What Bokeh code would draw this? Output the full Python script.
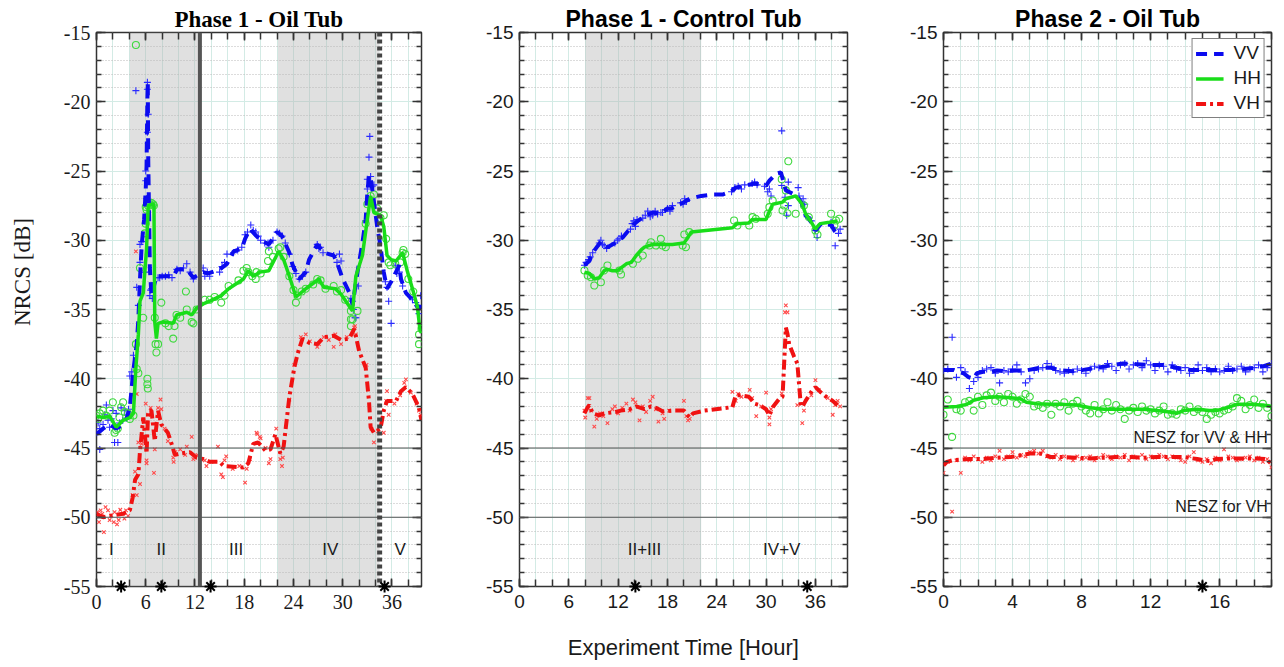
import math
from bokeh.plotting import figure
from bokeh.layouts import row
from bokeh.models import (Range1d, FixedTicker, LinearAxis, Span, BoxAnnotation,
                          Legend, LegendItem, CustomJSTickFormatter)
from bokeh.embed import file_html
from bokeh.resources import INLINE
from bokeh.core.properties import value

SERIF = "Liberation Serif"
SANS = "Liberation Sans"

# ---------------- axis ticks ----------------
y_ticks = [-55, -50, -45, -40, -35, -30, -25, -20, -15]
y_minor = list(range(-55, -14))
x_ticks_p1 = [0, 6, 12, 18, 24, 30, 36]
x_minor_p1 = list(range(0, 41, 2))
x_ticks_p3 = [0, 4, 8, 12, 16]
x_minor_p3 = list(range(0, 20))
nesz_levels = [-45, -50]

# ---------------- Panel 1 : Phase 1 - Oil Tub ----------------
p1_vv_line_t = [0, 0.8, 1.6, 2.4, 3.0, 3.7, 4.06, 4.47, 4.9, 5.1,
                5.3, 5.5, 5.8, 6.0, 6.1, 6.15, 6.2, 6.25, 6.3, 6.5,
                6.7, 7.3, 8.5, 9.4, 9.8, 11.0, 11.8, 13.0, 13.6, 15.0,
                15.9, 16.7, 17.7, 18.1, 18.7, 19.5, 20.0, 21.0, 22.0, 22.6,
                23.5, 23.9, 24.7, 25.5, 25.9, 26.9, 27.7, 28.9, 29.3, 30.0,
                31.0, 31.2, 31.8, 32.4, 32.8, 33.0, 33.2, 33.4, 33.6, 34.2,
                34.6, 35.0, 35.4, 35.9, 36.9, 37.1, 37.7, 38.5, 39.3, 39.6]
p1_vv_line_v = [-44.0, -43.6, -43.3, -43.6, -43.4, -42.8, -42.1, -39.5, -37.5, -35.7,
                -32.8, -30.4, -28.5, -26.3, -24.6, -22.2, -19.8, -18.6, -24.0, -32.0,
                -34.0, -32.6, -32.6, -32.6, -32.1, -32.1, -32.7, -32.3, -32.4, -32.1,
                -31.7, -30.8, -30.6, -29.9, -29.2, -29.7, -30.0, -30.3, -29.4, -29.7,
                -30.9, -31.8, -32.8, -32.3, -31.4, -30.3, -30.9, -31.1, -31.6, -32.8,
                -34.0, -34.7, -32.3, -30.2, -28.5, -26.6, -25.3, -25.6, -26.3, -29.0,
                -30.4, -32.3, -33.5, -33.0, -31.8, -32.8, -33.8, -34.3, -35.0, -34.2]

p1_hh_line_t = [0, 0.8, 1.6, 2.4, 3.25, 4.06, 4.5, 4.8, 5.1, 5.3,
                5.7, 6.1, 6.3, 6.7, 7.0, 7.1, 7.3, 7.5, 8.1, 9.35,
                9.75, 11.0, 11.6, 12.2, 13.0, 13.8, 15.2, 16.1, 17.9, 18.5,
                19.1, 19.9, 21.0, 22.2, 22.8, 23.5, 24.3, 25.5, 27.1, 27.7,
                29.1, 29.8, 31.2, 31.6, 32.4, 33.0, 33.4, 33.8, 34.6, 35.0,
                35.4, 35.9, 36.5, 37.3, 37.9, 38.5, 39.1, 39.4, 39.6]
p1_hh_line_v = [-42.7, -42.8, -42.7, -43.5, -43.0, -42.8, -42.5, -39.2, -36.8, -34.4,
                -33.8, -30.6, -27.5, -27.4, -27.4, -35.9, -37.1, -36.0, -35.9, -36.0,
                -35.4, -35.2, -35.4, -34.9, -34.6, -34.4, -34.0, -33.5, -32.8, -32.2,
                -32.6, -32.3, -32.2, -30.8, -31.4, -32.6, -34.1, -33.5, -32.8, -33.4,
                -33.5, -33.9, -35.1, -32.6, -31.1, -28.5, -26.8, -28.0, -28.2, -29.0,
                -31.1, -31.4, -31.5, -30.9, -32.3, -33.5, -34.8, -36.4, -36.7]

p1_vh_line_t = [0, 0.8, 1.6, 3.25, 4.06, 4.4, 4.7, 5.1, 5.3, 5.5,
                5.7, 6.1, 6.3, 6.7, 7.1, 7.5, 7.9, 8.7, 9.15, 9.55,
                10.2, 11.4, 12.2, 13.0, 13.8, 15.0, 15.5, 17.9, 18.5, 19.1,
                19.7, 20.6, 21.2, 21.8, 22.4, 22.8, 23.5, 24.1, 24.5, 25.1,
                25.9, 26.9, 27.7, 28.9, 29.8, 30.8, 31.4, 32.0, 32.8, 33.2,
                33.4, 33.8, 34.6, 35.0, 35.4, 36.5, 37.1, 37.7, 38.5, 39.3,
                39.6]
p1_vh_line_v = [-49.75, -50.0, -49.9, -49.75, -49.5, -48.6, -47.3, -46.9, -45.2, -44.0,
                -42.8, -45.4, -42.3, -42.3, -44.5, -42.3, -43.3, -43.9, -44.7, -45.5,
                -45.4, -45.3, -45.7, -45.8, -46.0, -46.0, -46.3, -46.4, -46.1, -44.7,
                -44.6, -45.2, -45.1, -44.0, -45.4, -44.9, -41.3, -39.2, -38.2, -37.1,
                -37.4, -37.5, -37.0, -36.9, -37.2, -37.1, -36.4, -38.0, -39.2, -41.6,
                -43.5, -43.9, -43.6, -42.3, -41.6, -41.6, -40.9, -40.6, -41.1, -42.1,
                -43.0]

p1_vv_pts_t = [0, 0.2, 0.4, 0.4, 0.8, 1.0, 1.2, 1.4, 1.6, 1.8,
               2.0, 2.2, 2.4, 2.6, 2.8, 3.0, 3.2, 3.45, 3.7, 3.9,
               4.06, 4.3, 4.5, 4.8, 4.9, 5.1, 5.3, 5.3, 5.5, 5.9,
               6.0, 6.0, 6.2, 6.2, 6.2, 6.3, 6.1, 6.5, 6.6, 6.7,
               6.8, 7.5, 7.7, 8.0, 8.4, 8.8, 9.2, 9.8, 10.2, 10.6,
               11.0, 11.4, 11.8, 13.0, 13.2, 13.5, 13.8, 15.0, 15.3, 15.6,
               15.9, 16.7, 17.2, 17.7, 18.1, 18.4, 18.8, 19.1, 19.4, 19.7,
               20.0, 20.5, 20.9, 21.0, 21.5, 22.0, 22.3, 22.6, 23.0, 23.5,
               23.9, 24.3, 24.7, 25.1, 25.5, 26.9, 27.1, 27.3, 27.6, 28.9,
               29.3, 29.6, 29.8, 31.0, 31.2, 31.3, 31.6, 31.5, 31.9, 32.8,
               33.0, 33.0, 33.2, 33.3, 33.4, 33.6, 33.8, 35.2, 35.4, 35.6,
               35.9, 36.4, 36.6, 36.9, 37.3, 38.5, 38.9, 39.3, 39.5]
p1_vv_pts_v = [-43.9, -43.2, -43.6, -45.1, -43.3, -42.6, -41.9, -43.0, -43.5, -42.9,
               -42.3, -44.6, -42.5, -44.6, -43.2, -42.1, -43.0, -42.3, -42.6, -42.2,
               -39.8, -39.5, -38.3, -19.2, -33.4, -34.7, -30.3, -31.6, -30.1, -32.3,
               -25.7, -25.0, -22.2, -18.6, -19.1, -20.9, -27.0, -34.0, -33.6, -33.5,
               -34.2, -32.7, -32.7, -32.6, -32.6, -32.5, -32.7, -32.1, -32.2, -32.0,
               -31.7, -32.3, -32.8, -32.0, -32.6, -32.3, -32.6, -32.3, -31.9, -31.6,
               -31.0, -30.9, -30.7, -30.5, -29.6, -29.4, -28.9, -29.3, -29.4, -29.7,
               -30.0, -30.2, -30.2, -30.5, -30.0, -29.4, -29.5, -29.7, -30.2, -31.0,
               -31.9, -32.4, -32.8, -32.6, -32.3, -30.3, -30.6, -30.5, -30.9, -31.1,
               -31.6, -31.0, -31.5, -34.2, -34.4, -35.0, -35.6, -35.6, -33.3, -28.6,
               -26.3, -25.6, -24.0, -22.5, -25.4, -26.1, -26.0, -33.0, -33.4, -34.4,
               -36.0, -31.8, -32.4, -32.3, -33.3, -34.3, -34.5, -35.3, -34.0]

p1_hh_pts_t = [0, 0.2, 0.4, 0.8, 1.2, 1.6, 2.0, 2.2, 2.4, 2.6,
               2.8, 3.0, 3.25, 3.45, 3.8, 4.06, 4.5, 4.8, 4.9, 5.1,
               4.8, 5.3, 5.7, 5.9, 6.0, 6.0, 6.1, 6.2, 6.2, 6.25,
               6.3, 6.5, 6.7, 6.9, 7.0, 7.1, 7.2, 7.3, 7.5, 7.9,
               8.4, 8.8, 9.35, 9.5, 9.75, 10.2, 10.9, 11.0, 11.6, 11.8,
               12.2, 13.2, 13.8, 14.4, 15.2, 15.6, 16.1, 17.3, 17.9, 18.3,
               18.5, 19.0, 19.4, 19.5, 20.0, 20.9, 21.0, 21.5, 22.2, 22.4,
               22.8, 23.5, 24.0, 24.3, 24.5, 25.0, 25.5, 26.4, 26.9, 27.3,
               27.9, 28.9, 29.3, 29.8, 30.3, 31.0, 31.0, 31.2, 31.0, 31.8,
               32.8, 33.0, 33.4, 33.8, 34.2, 34.6, 35.0, 35.3, 35.6, 35.8,
               36.4, 37.0, 37.3, 37.4, 37.6, 38.0, 38.6, 39.3, 39.3, 39.6]
p1_hh_pts_v = [-42.66, -42.9, -42.5, -42.3, -42.66, -42.3, -41.7, -43.9, -43.7, -43.6,
               -42.8, -42.06, -41.7, -42.4, -42.5, -42.9, -42.66, -37.5, -39.3, -39.6,
               -15.9, -32.0, -35.6, -29.5, -28.8, -27.6, -27.8, -40.0, -40.4, -40.7,
               -27.5, -27.4, -27.3, -27.4, -27.5, -35.6, -37.5, -38.1, -37.5, -34.5,
               -36.0, -36.2, -37.1, -36.2, -35.4, -35.6, -33.7, -35.0, -35.9, -36.0,
               -35.0, -34.3, -34.3, -34.1, -34.5, -34.0, -33.3, -32.9, -32.2, -32.0,
               -32.3, -32.6, -32.8, -32.3, -32.4, -31.5, -30.8, -31.2, -30.6, -30.5,
               -31.2, -32.6, -33.6, -34.5, -34.0, -33.7, -33.5, -33.2, -32.8, -32.9,
               -33.5, -33.3, -33.7, -33.6, -34.3, -35.1, -35.7, -35.7, -36.2, -35.1,
               -28.8, -27.4, -26.8, -26.7, -27.7, -28.4, -28.2, -29.9, -31.6, -31.8,
               -31.7, -31.6, -30.9, -30.7, -31.0, -32.8, -33.7, -36.8, -37.5, -36.4]

p1_vh_pts_t = [0.1, 0.3, 0.5, 0.7, 0.9, 1.1, 1.4, 1.6, 1.8, 2.1,
               2.2, 2.5, 2.7, 2.9, 3.2, 3.4, 3.6, 3.85, 4.4, 4.7,
               4.9, 4.8, 4.9, 5.1, 5.3, 5.5, 5.7, 6.0, 6.1, 6.1,
               6.3, 6.6, 7.0, 7.1, 7.5, 7.8, 7.9, 8.3, 8.7, 9.35,
               9.4, 9.6, 10.2, 10.8, 11.0, 11.6, 11.8, 12.3, 13.2, 13.4,
               14.0, 14.8, 15.2, 15.4, 15.6, 15.8, 16.6, 17.4, 18.1, 18.3,
               18.7, 19.5, 19.6, 19.9, 20.0, 20.6, 21.0, 21.2, 21.9, 22.4,
               22.6, 22.7, 23.5, 24.1, 24.9, 25.5, 26.0, 26.9, 27.1, 27.7,
               28.3, 28.9, 29.1, 29.8, 30.5, 31.4, 31.5, 31.6, 32.9, 33.5,
               33.8, 34.3, 35.0, 35.3, 35.4, 35.6, 36.3, 37.0, 37.5, 37.7,
               38.3, 39.0, 39.3, 39.5]
p1_vh_pts_v = [-49.63, -50.35, -49.5, -49.75, -51.07, -49.27, -49.5, -50.2, -49.87, -50.35,
               -49.63, -50.52, -50.2, -49.46, -49.75, -50.1, -49.5, -49.9, -48.4, -46.7,
               -48.4, -30.8, -41.1, -44.6, -47.6, -44.7, -43.0, -41.8, -45.9, -46.1,
               -42.6, -42.1, -46.8, -45.1, -42.1, -41.5, -42.2, -43.6, -44.5, -45.7,
               -46.0, -45.3, -45.1, -45.5, -44.9, -44.2, -45.8, -45.5, -45.9, -46.3,
               -46.0, -44.9, -46.9, -47.1, -45.9, -45.6, -46.5, -46.3, -47.5, -46.5,
               -45.8, -43.9, -44.0, -44.2, -44.3, -45.0, -46.1, -45.8, -43.6, -45.8,
               -46.3, -45.7, -41.5, -39.0, -37.0, -36.8, -37.3, -37.7, -37.5, -37.0,
               -37.2, -37.7, -36.8, -37.5, -37.0, -36.3, -36.2, -36.8, -39.0, -43.6,
               -44.6, -43.8, -43.9, -41.6, -40.9, -42.6, -41.8, -41.2, -40.3, -40.05,
               -41.0, -41.8, -42.3, -42.6]

p1_shade_left = [4.06, 22.1]
p1_shade_right = [12.6, 34.5]
p1_solid_line_at = 12.6
p1_dotted_line_at = 34.5
p1_region_names = ["I", "II", "III", "IV", "V"]
p1_region_x = [1.8, 7.9, 17.0, 28.5, 37.0]
p1_region_y = [-52.3, -52.3, -52.3, -52.3, -52.3]
p1_star_x = [3.0, 7.9, 13.9, 35.1]
p1_ylabel = ["NRCS [dB]"]
p1_ylabel_x = [-9.0]
p1_ylabel_y = [-32.3]

# ---------------- Panel 2 : Phase 1 - Control Tub ----------------
p2_vv_line_t = [7.9, 8.5, 8.9, 9.9, 10.7, 11.9, 12.55, 13.8, 14.4, 15.4,
                16.2, 17.2, 18.0, 18.5, 20.0, 20.7, 22.1, 23.5, 24.7, 25.7,
                26.3, 27.5, 28.6, 30.0, 30.4, 31.2, 31.8, 32.4, 33.8, 34.4,
                34.8, 35.2, 36.0, 36.7, 37.9, 38.3, 38.9]
p2_vv_line_v = [-31.8, -31.5, -30.9, -30.1, -30.5, -30.1, -29.8, -28.9, -28.6, -28.2,
                -28.0, -28.1, -27.7, -27.7, -27.25, -27.0, -26.8, -26.7, -26.7, -26.5,
                -26.2, -26.05, -25.9, -26.05, -25.7, -25.2, -25.1, -26.4, -26.8, -27.4,
                -28.2, -28.4, -29.3, -28.8, -28.9, -29.3, -29.7]

p2_hh_line_t = [7.9, 8.5, 9.1, 9.7, 10.3, 10.7, 11.3, 11.9, 13.0, 13.6,
                14.2, 14.8, 15.2, 16.2, 17.4, 18.6, 20.0, 20.5, 20.9, 25.9,
                26.5, 27.9, 28.3, 30.0, 30.4, 30.8, 32.0, 32.4, 33.6, 34.4,
                34.8, 35.4, 36.0, 36.4, 36.6, 37.7, 38.7]
p2_hh_line_v = [-32.3, -32.4, -32.8, -32.7, -32.2, -32.1, -32.2, -32.2, -31.7, -31.6,
                -31.1, -30.7, -30.5, -30.3, -30.3, -30.3, -30.2, -29.8, -29.4, -29.1,
                -28.8, -28.75, -28.5, -28.5, -27.9, -27.4, -27.25, -27.0, -26.8, -27.4,
                -28.1, -28.6, -29.2, -28.9, -28.8, -28.7, -28.6]

p2_vh_line_t = [7.9, 8.3, 8.5, 8.9, 9.7, 10.3, 11.7, 12.3, 13.4, 14.2,
                15.2, 16.0, 16.6, 17.4, 18.6, 20.0, 20.7, 21.1, 22.5, 25.9,
                26.3, 26.9, 27.9, 28.6, 29.2, 30.0, 30.4, 30.8, 31.6, 32.0,
                32.4, 32.6, 32.8, 33.4, 33.8, 34.2, 34.4, 34.8, 35.6, 36.0,
                36.6, 37.3, 38.1, 38.7]
p2_vh_line_v = [-42.5, -42.05, -41.9, -42.5, -42.65, -42.5, -42.4, -42.3, -42.2, -42.0,
                -42.2, -42.0, -42.1, -42.35, -42.3, -42.3, -42.8, -42.5, -42.3, -42.05,
                -41.2, -41.2, -41.3, -41.8, -41.9, -42.2, -42.65, -42.05, -41.45, -41.3,
                -36.3, -36.75, -37.5, -38.4, -38.9, -41.8, -42.05, -41.6, -40.85, -40.6,
                -40.95, -41.3, -41.6, -41.9]

p2_vv_pts_t = [7.9, 8.1, 8.4, 8.6, 8.9, 9.7, 9.9, 10.1, 10.3, 10.6,
               11.6, 11.9, 12.1, 12.4, 13.5, 13.7, 13.9, 14.1, 14.3, 15.0,
               15.3, 15.6, 15.9, 16.2, 16.5, 16.8, 17.2, 17.4, 18.0, 18.3,
               18.6, 19.6, 19.9, 20.1, 20.3, 25.8, 26.2, 26.6, 27.0, 27.4,
               28.3, 28.6, 28.9, 29.8, 30.2, 30.4, 30.6, 31.9, 31.9, 32.3,
               32.5, 32.7, 32.7, 33.9, 34.0, 34.5, 34.7, 35.0, 35.5, 36.2,
               36.0, 37.9, 38.2, 38.4, 38.8, 39.0]
p2_vv_pts_v = [-31.8, -31.6, -31.4, -31.2, -30.9, -30.2, -30.0, -30.3, -30.4, -30.6,
               -30.2, -30.0, -29.9, -29.7, -29.2, -28.8, -28.6, -29.0, -28.5, -28.4,
               -28.2, -27.9, -28.3, -28.2, -27.9, -28.1, -28.0, -28.0, -27.7, -27.9,
               -27.5, -27.3, -27.4, -27.0, -27.2, -26.5, -26.2, -26.1, -26.3, -26.0,
               -25.9, -25.8, -26.0, -26.1, -26.5, -26.3, -26.8, -22.1, -26.05, -26.9,
               -28.2, -27.5, -25.8, -26.2, -26.8, -27.0, -27.4, -28.3, -28.6, -29.8,
               -29.3, -28.7, -29.1, -30.4, -29.5, -29.2]

p2_hh_pts_t = [7.9, 8.3, 8.7, 9.1, 9.9, 10.7, 10.3, 12.35, 12.15, 13.8,
               14.4, 15.0, 15.8, 16.0, 16.6, 17.2, 17.8, 17.4, 20.05, 20.25,
               19.85, 20.65, 26.1, 26.5, 27.95, 28.35, 28.75, 30.2, 30.4, 30.8,
               32.2, 32.0, 32.6, 32.4, 33.6, 34.6, 35.2, 36.0, 36.25, 37.9,
               38.3, 38.9, 38.5, 32.7, 31.9]
p2_hh_pts_v = [-32.18, -32.55, -32.67, -33.27, -33.03, -31.82, -32.18, -32.47, -32.18, -31.70,
               -31.34, -31.1, -30.38, -30.14, -30.38, -29.9, -30.5, -30.38, -29.58, -30.5,
               -30.38, -29.41, -28.57, -28.93, -28.93, -28.33, -28.45, -28.09, -27.61, -27.13,
               -27.49, -27.85, -28.05, -26.4, -28.09, -27.49, -28.33, -29.29, -29.6, -28.09,
               -28.93, -28.45, -28.57, -24.3, -25.6]

p2_vh_pts_t = [7.9, 8.0, 8.3, 8.5, 8.7, 9.1, 9.4, 9.8, 10.2, 10.7,
               11.3, 11.6, 12.0, 12.5, 13.0, 13.4, 13.8, 14.1, 14.6, 15.0,
               15.4, 15.9, 16.2, 16.6, 16.9, 17.4, 17.6, 18.2, 20.0, 20.3,
               20.5, 20.7, 25.9, 26.3, 26.6, 27.0, 28.0, 28.3, 28.8, 29.4,
               30.0, 30.4, 30.4, 30.6, 31.9, 32.3, 32.4, 32.6, 33.8, 34.4,
               34.6, 35.5, 36.0, 36.4, 37.5, 38.1, 38.4, 38.7, 39.0]
p2_vh_pts_v = [-42.3, -42.8, -41.4, -41.4, -42.3, -43.45, -42.9, -42.5, -42.7, -43.2,
               -42.2, -42.0, -42.5, -42.1, -41.8, -42.3, -41.5, -41.7, -43.0, -42.0,
               -42.4, -41.6, -41.3, -42.2, -43.1, -42.5, -42.9, -42.3, -41.6, -42.7,
               -43.0, -42.9, -40.95, -41.6, -41.1, -41.3, -40.8, -41.4, -42.7, -42.0,
               -41.0, -43.3, -42.8, -42.2, -41.05, -35.2, -34.7, -35.2, -41.9, -43.2,
               -42.3, -41.2, -40.1, -40.8, -41.4, -42.6, -41.9, -41.6, -42.0]

p2_shade_left = [8.0]
p2_shade_right = [22.1]
p2_region_names = ["II+III", "IV+V"]
p2_region_x = [15.2, 31.9]
p2_region_y = [-52.3, -52.3]
p2_star_x = [14.1, 35.0]

# ---------------- Panel 3 : Phase 2 - Oil Tub ----------------
p3_vv_line_t = [0, 0.58, 0.87, 1.16, 1.45, 1.74, 1.93, 2.3, 2.7, 3.1,
                3.5, 4.25, 4.8, 5.6, 6.2, 6.75, 7.5, 8.1, 8.9, 9.65,
                10.4, 11.2, 12.0, 12.7, 13.5, 14.3, 15.1, 15.8, 16.6, 17.4,
                18.1, 18.5, 19.0]
p3_vv_line_v = [-39.36, -39.36, -39.5, -39.6, -39.88, -40.0, -39.6, -39.5, -39.5, -39.4,
                -39.45, -39.4, -39.4, -39.2, -39.2, -39.4, -39.45, -39.36, -39.2, -39.05,
                -38.9, -38.95, -39.0, -39.0, -39.2, -39.36, -39.36, -39.36, -39.36, -39.3,
                -39.2, -39.1, -38.9]

p3_hh_line_t = [0, 0.77, 1.35, 1.74, 2.3, 3.1, 3.9, 4.45, 4.8, 5.4,
                6.2, 6.95, 7.7, 8.5, 9.3, 10.0, 10.8, 11.6, 12.35, 13.1,
                13.5, 13.9, 14.7, 15.4, 15.8, 16.4, 17.0, 17.8, 18.5, 19.0]
p3_hh_line_v = [-42.05, -42.0, -41.85, -41.55, -41.37, -41.3, -41.37, -41.44, -41.7, -41.8,
                -41.85, -41.85, -41.9, -42.1, -42.2, -42.2, -42.2, -42.2, -42.3, -42.4,
                -42.5, -42.3, -42.2, -42.3, -42.3, -42.1, -41.85, -41.85, -41.9, -42.0]

p3_vh_line_t = [0, 0.2, 0.58, 1.5, 2.3, 3.1, 3.9, 4.6, 5.0, 5.6,
                6.2, 6.95, 7.7, 8.5, 9.3, 10.0, 10.8, 11.6, 12.35, 13.1,
                13.9, 14.7, 15.4, 15.8, 16.6, 17.4, 18.1, 18.7, 19.0]
p3_vh_line_v = [-46.26, -46.0, -45.87, -45.8, -45.8, -45.7, -45.65, -45.5, -45.4, -45.4,
                -45.65, -45.65, -45.7, -45.75, -45.7, -45.65, -45.65, -45.7, -45.65, -45.65,
                -45.65, -45.8, -45.95, -45.8, -45.75, -45.75, -45.75, -45.8, -46.15]

p3_pts_t = [0.0, 0.25, 0.5, 0.75, 1.0, 1.25, 1.5, 1.75, 2.0, 2.25,
            2.5, 2.75, 3.0, 3.25, 3.5, 3.75, 4.0, 4.25, 4.5, 4.75,
            5.0, 5.25, 5.5, 5.75, 6.0, 6.25, 6.5, 6.75, 7.0, 7.25,
            7.5, 7.75, 8.0, 8.25, 8.5, 8.75, 9.0, 9.25, 9.5, 9.75,
            10.0, 10.25, 10.5, 10.75, 11.0, 11.25, 11.5, 11.75, 12.0, 12.25,
            12.5, 12.75, 13.0, 13.25, 13.5, 13.75, 14.0, 14.25, 14.5, 14.75,
            15.0, 15.25, 15.5, 15.75, 16.0, 16.25, 16.5, 16.75, 17.0, 17.25,
            17.5, 17.75, 18.0, 18.25, 18.5, 18.75, 19.0]
p3_vv_pts_v = [-39.4, -39.3, -37.0, -39.9, -39.2, -39.5, -40.7, -40.2, -39.9, -39.4,
               -39.3, -39.2, -39.6, -40.3, -39.4, -39.5, -39.3, -39.0, -39.5, -40.3,
               -40.0, -39.4, -39.3, -39.2, -38.9, -39.1, -39.4, -39.5, -39.6, -39.4,
               -39.5, -39.3, -39.4, -39.6, -39.3, -39.1, -39.2, -39.3, -38.9, -39.1,
               -39.4, -39.0, -38.9, -39.3, -39.0, -38.9, -39.2, -38.7, -39.0, -39.4,
               -39.0, -39.1, -39.5, -39.0, -39.3, -39.4, -39.2, -39.6, -39.4, -39.0,
               -39.4, -39.2, -39.5, -39.3, -39.5, -39.4, -39.1, -39.4, -39.3, -39.1,
               -39.5, -39.3, -39.2, -39.0, -39.5, -39.2, -38.9]
p3_hh_pts_v = [-42.6, -41.5, -44.2, -42.2, -42.3, -41.7, -41.6, -42.3, -41.3, -41.9,
               -41.2, -41.0, -41.6, -41.3, -41.7, -41.1, -41.3, -41.8, -41.5, -41.1,
               -41.3, -42.0, -41.9, -42.1, -41.8, -42.6, -41.8, -42.0, -41.7, -42.3,
               -41.8, -41.6, -42.0, -42.3, -42.5, -41.9, -42.5, -42.2, -41.7, -42.3,
               -41.9, -42.2, -42.9, -42.3, -42.1, -42.4, -42.0, -42.3, -42.2, -42.5,
               -42.3, -42.0, -42.6, -42.5, -42.6, -42.2, -42.3, -42.0, -42.4, -42.2,
               -42.4, -42.9, -42.6, -42.4, -42.5, -42.3, -42.2, -42.0, -41.4, -41.6,
               -42.2, -41.9, -41.5, -42.1, -41.8, -42.1, -42.7]
p3_vh_pts_v = [-46.8, -46.0, -49.6, -45.9, -46.8, -45.7, -45.9, -45.6, -45.8, -46.0,
               -45.7, -45.9, -45.6, -45.2, -45.8, -45.6, -45.3, -45.7, -45.5, -45.6,
               -45.3, -45.2, -45.4, -45.2, -45.6, -45.7, -45.5, -45.8, -45.6, -45.7,
               -45.9, -45.6, -45.8, -45.7, -45.6, -45.9, -45.7, -45.5, -45.6, -45.8,
               -45.6, -45.7, -45.5, -45.9, -45.6, -45.7, -45.5, -45.8, -45.6, -45.7,
               -45.5, -45.6, -45.8, -45.6, -45.7, -45.9, -46.0, -45.6, -45.3, -45.9,
               -46.0, -45.8, -46.1, -45.7, -45.9, -45.1, -45.6, -45.7, -45.9, -45.8,
               -45.7, -45.6, -45.9, -45.7, -46.0, -45.8, -46.4]

p3_star_x = [15.0]
p3_nesz_text = ["NESZ for VV & HH", "NESZ for VH"]
p3_nesz_x = [18.78, 18.78]
p3_nesz_y = [-44.25, -49.25]

# ---------------- styling ----------------
VV_LINE, HH_LINE, VH_LINE = "#0b0bef", "#19dd19", "#f01212"
VV_PT, HH_PT, VH_PT = "#2a2aff", "#3fd93f", "#ff4a4a"
GRID_TEAL = "#d3ebe5"
AX_COL = "#333333"
TXT_COL = "#1a1a1a"
PLAIN_FMT = "return tick.toFixed(0)"


def blank_axis(ticker):
    ax = LinearAxis(ticker=ticker,
                    formatter=CustomJSTickFormatter(code="return ''"),
                    major_label_text_font_size="0px", major_label_standoff=0,
                    axis_line_color=None,
                    major_tick_in=8, major_tick_out=0,
                    minor_tick_in=4, minor_tick_out=0,
                    major_tick_line_color=AX_COL, minor_tick_line_color=AX_COL,
                    major_tick_line_width=1.5, minor_tick_line_width=1.5)
    return ax


def make_panel(title, font, font_size_ticks, xmax, xt, xm, fw, left, right):
    p = figure(frame_width=fw, frame_height=554,
               x_range=Range1d(0, xmax), y_range=Range1d(-55, -15),
               output_backend="svg", toolbar_location=None,
               min_border_left=left, min_border_right=right,
               min_border_top=32, min_border_bottom=81)
    p.title.text = title
    p.title.text_font = font
    p.title.text_font_size = "23px"
    p.title.text_font_style = "bold"
    p.title.align = "center"
    p.title.standoff = 2
    p.title.text_color = "black"
    p.outline_line_color = AX_COL
    p.outline_line_width = 1.5
    p.background_fill_color = "white"

    xa = p.below[0]
    ya = p.left[0]
    xa.ticker = FixedTicker(ticks=xt, minor_ticks=xm)
    ya.ticker = FixedTicker(ticks=y_ticks, minor_ticks=y_minor)
    for ax in (xa, ya):
        ax.formatter = CustomJSTickFormatter(code=PLAIN_FMT)
        ax.axis_line_color = None
        ax.major_tick_out = 0
        ax.minor_tick_out = 0
        ax.major_tick_line_color = AX_COL
        ax.minor_tick_line_color = AX_COL
        ax.major_tick_line_width = 1.5
        ax.minor_tick_line_width = 1.5
        ax.major_label_text_font = font
        ax.major_label_text_font_size = font_size_ticks
        ax.major_label_text_color = TXT_COL
    xa.major_tick_in = 8
    xa.minor_tick_in = 7
    ya.major_tick_in = 9
    ya.minor_tick_in = 5
    xa.major_label_standoff = 8
    ya.major_label_standoff = 6

    top = blank_axis(FixedTicker(ticks=xt, minor_ticks=xm))
    top.minor_tick_in = 7
    p.add_layout(top, "above")
    rgt = blank_axis(FixedTicker(ticks=y_ticks, minor_ticks=y_minor))
    rgt.major_tick_in = 9
    rgt.minor_tick_in = 5
    p.add_layout(rgt, "right")

    p.xgrid.grid_line_color = GRID_TEAL
    p.xgrid.minor_grid_line_color = GRID_TEAL
    p.xgrid.grid_line_width = 1
    p.ygrid.grid_line_color = GRID_TEAL
    p.ygrid.grid_line_width = 1
    p.ygrid.minor_grid_line_color = "#b9b9b9"
    p.ygrid.minor_grid_line_dash = "1 2"
    p.ygrid.minor_grid_line_width = 1

    for lv in nesz_levels:
        p.add_layout(Span(location=lv, dimension="width",
                          line_color="#555555", line_width=1.2))
    return p, xa, ya


def add_shades(p, lefts, rights):
    for l, r in zip(lefts, rights):
        p.add_layout(BoxAnnotation(left=l, right=r, fill_color="#b4b4b4",
                                   fill_alpha=0.42, line_color=None,
                                   level="underlay"))


def add_data(p, vv_t, vv_v, hh_t, hh_v, vh_t, vh_v,
             vvp_t, vvp_v, hhp_t, hhp_v, vhp_t, vhp_v):
    p.scatter(vvp_t, vvp_v, marker="cross", size=7, line_color=VV_PT, line_width=1.1)
    p.scatter(hhp_t, hhp_v, marker="circle", size=7, fill_color=None,
              line_color=HH_PT, line_width=1.1)
    p.scatter(vhp_t, vhp_v, marker="x", size=5, line_color=VH_PT, line_width=1.1)
    r_vv = p.line(vv_t, vv_v, line_color=VV_LINE, line_width=4, line_dash="11 7")
    r_hh = p.line(hh_t, hh_v, line_color=HH_LINE, line_width=3.5)
    r_vh = p.line(vh_t, vh_v, line_color=VH_LINE, line_width=4, line_dash="10 4 3 4")
    return r_vv, r_hh, r_vh


def add_stars(p, xs):
    p.scatter(xs, [-55] * len(xs), marker="asterisk", size=12,
              line_color="black", line_width=2, level="overlay")


def add_region_text(p, xs, ys, names):
    p.text(x=xs, y=ys, text=names, text_font=value(SANS), text_font_size="17px",
           text_align="center", text_baseline="middle", text_color=TXT_COL)


# Panel 1
p1, p1x, p1y = make_panel("Phase 1 - Oil Tub", SERIF, "20px", 39.6,
                          x_ticks_p1, x_minor_p1, 325, 96, 19)
add_shades(p1, p1_shade_left, p1_shade_right)
p1.text(x=p1_ylabel_x, y=p1_ylabel_y, text=p1_ylabel, angle=math.pi / 2,
        text_font=value(SERIF), text_font_size="23px", text_align="center",
        text_baseline="middle", text_color=TXT_COL, level="overlay")
add_data(p1, p1_vv_line_t, p1_vv_line_v, p1_hh_line_t, p1_hh_line_v,
         p1_vh_line_t, p1_vh_line_v, p1_vv_pts_t, p1_vv_pts_v,
         p1_hh_pts_t, p1_hh_pts_v, p1_vh_pts_t, p1_vh_pts_v)
p1.add_layout(Span(location=p1_solid_line_at, dimension="height",
                   line_color="#555555", line_width=4))
p1.add_layout(Span(location=p1_dotted_line_at, dimension="height",
                   line_color="#444444", line_width=5, line_dash="4 3"))
add_region_text(p1, p1_region_x, p1_region_y, p1_region_names)
add_stars(p1, p1_star_x)

# Panel 2
p2, p2x, p2y = make_panel("Phase 1 - Control Tub", SANS, "19px", 39.9,
                          x_ticks_p1, x_minor_p1, 328, 79, 13)
add_shades(p2, p2_shade_left, p2_shade_right)
p2x.axis_label = "Experiment Time [Hour]"
p2x.axis_label_text_font = SANS
p2x.axis_label_text_font_size = "22px"
p2x.axis_label_text_font_style = "normal"
p2x.axis_label_text_color = TXT_COL
p2x.axis_label_standoff = 24
add_data(p2, p2_vv_line_t, p2_vv_line_v, p2_hh_line_t, p2_hh_line_v,
         p2_vh_line_t, p2_vh_line_v, p2_vv_pts_t, p2_vv_pts_v,
         p2_hh_pts_t, p2_hh_pts_v, p2_vh_pts_t, p2_vh_pts_v)
add_region_text(p2, p2_region_x, p2_region_y, p2_region_names)
add_stars(p2, p2_star_x)

# Panel 3
p3, p3x, p3y = make_panel("Phase 2 - Oil Tub", SANS, "19px", 19,
                          x_ticks_p3, x_minor_p3, 328, 83, 13)
r_vv, r_hh, r_vh = add_data(p3, p3_vv_line_t, p3_vv_line_v, p3_hh_line_t, p3_hh_line_v,
                            p3_vh_line_t, p3_vh_line_v, p3_pts_t, p3_vv_pts_v,
                            p3_pts_t, p3_hh_pts_v, p3_pts_t, p3_vh_pts_v)
p3.text(x=p3_nesz_x, y=p3_nesz_y, text=p3_nesz_text, text_font=value(SANS),
        text_font_size="16px", text_align="right", text_baseline="middle",
        text_color=TXT_COL)
add_stars(p3, p3_star_x)

legend = Legend(items=[LegendItem(label="VV", renderers=[r_vv]),
                       LegendItem(label="HH", renderers=[r_hh]),
                       LegendItem(label="VH", renderers=[r_vh])],
                location="top_right")
legend.border_line_color = "black"
legend.border_line_width = 1.5
legend.label_text_font = SANS
legend.label_text_font_size = "19px"
legend.label_text_color = TXT_COL
legend.glyph_width = 28
legend.glyph_height = 21
legend.label_height = 21
legend.spacing = 3
legend.padding = 3
legend.margin = 6
legend.label_standoff = 10
legend.background_fill_alpha = 1
p3.add_layout(legend)

layout = row(p1, p2, p3, spacing=0)
open("out.html", "w").write(file_html(layout, INLINE))
